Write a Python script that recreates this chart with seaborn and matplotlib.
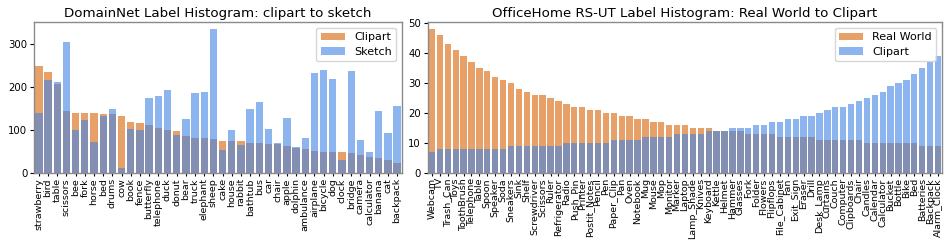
import matplotlib
matplotlib.use("Agg")
import matplotlib.pyplot as plt
import seaborn as sns
import pandas as pd

# ---------------- DomainNet data ----------------
dn_labels = ["strawberry", "bird", "table", "scissors", "bee", "fork", "horse", "bed", "drums", "cow",
             "book", "fence", "butterfly", "telephone", "duck", "donut", "bear", "truck", "elephant", "sheep",
             "cake", "house", "rabbit", "bathtub", "bus", "car", "chair", "apple", "dolphin", "ambulance",
             "airplane", "bicycle", "dog", "clock", "bridge", "camera", "calculator", "banana", "cat", "backpack"]
dn_clipart = [250, 236, 208, 144, 141, 141, 141, 138, 137, 132,
              118, 116, 113, 105, 100, 98, 87, 82, 82, 80,
              76, 76, 75, 71, 71, 69, 67, 63, 59, 57,
              52, 50, 50, 49, 48, 42, 39, 36, 31, 25]
dn_sketch = [139, 216, 211, 306, 101, 124, 73, 133, 150, 12,
             103, 100, 176, 179, 194, 89, 126, 187, 188, 334,
             54, 101, 66, 149, 165, 103, 70, 128, 61, 82,
             233, 241, 218, 31, 237, 77, 49, 144, 93, 156]

# ---------------- OfficeHome data ----------------
oh_labels = ["Webcam", "TV", "Trash_Can", "Toys", "ToothBrush", "Telephone", "Table", "Spoon", "Speaker", "Soda",
             "Sneakers", "Sink", "Shelf", "Screwdriver", "Scissors", "Ruler", "Refrigerator", "Radio", "Push_Pin", "Printer",
             "Postit_Notes", "Pencil", "Pen", "Paper_Clip", "Pan", "Oven", "Notebook", "Mug", "Mouse", "Mop",
             "Monitor", "Marker", "Laptop", "Lamp_Shade", "Knives", "Keyboard", "Kettle", "Helmet", "Hammer", "Glasses",
             "Fork", "Folder", "Flowers", "Flipflops", "File_Cabinet", "Fan", "Exit_Sign", "Eraser", "Drill", "Desk_Lamp",
             "Curtains", "Couch", "Computer", "Clipboards", "Chair", "Candles", "Calendar", "Calculator", "Bucket", "Bottle",
             "Bike", "Bed", "Batteries", "Backpack", "Alarm_Clock"]
oh_realworld = [48, 46, 43, 41, 39, 37, 35, 34, 32, 31,
                30, 28, 27, 26, 26, 25, 24, 23, 22, 22,
                21, 21, 20, 20, 19, 19, 18, 18, 17, 17,
                16, 16, 16, 15, 15, 15, 14, 14, 14, 14,
                13, 13, 13, 13, 12, 12, 12, 12, 12, 11,
                11, 11, 11, 11, 11, 10, 10, 10, 10, 10,
                10, 10, 9, 9, 9]
oh_clipart = [7, 8, 8, 8, 8, 8, 8, 8, 8, 8,
              9, 9, 9, 9, 9, 9, 9, 10, 10, 10,
              10, 10, 10, 11, 11, 11, 11, 12, 12, 12,
              12, 13, 13, 13, 13, 14, 14, 14, 15, 15,
              15, 16, 16, 17, 17, 18, 18, 19, 19, 20,
              21, 22, 22, 23, 24, 25, 26, 27, 29, 30,
              31, 33, 35, 37, 39]

ORANGE = "#E8A069"
BLUE = "#3F82E3"

fig = plt.figure(figsize=(9.52, 2.46), dpi=100)
ax1 = fig.add_axes([34.3 / 952, 1 - 173.3 / 246, 367.4 / 952, 151 / 246])
ax2 = fig.add_axes([428 / 952, 1 - 173.3 / 246, 514 / 952, 151 / 246])


def draw(ax, labels, a, b, la, lb, title):
    df = pd.DataFrame({"label": labels, "a": a, "b": b})
    sns.barplot(data=df, x="label", y="a", color=ORANGE, alpha=1.0, saturation=1,
                label=la, ax=ax, order=labels)
    sns.barplot(data=df, x="label", y="b", color=BLUE, alpha=0.6, saturation=1,
                label=lb, ax=ax, order=labels)
    ax.set_xlabel("")
    ax.set_ylabel("")
    ax.set_title(title, fontsize=9.6, pad=4)
    ax.tick_params(axis="x", labelrotation=90, labelsize=6.8, length=2.5, pad=1)
    ax.tick_params(axis="y", labelsize=7.3, length=3, pad=2)
    for s in ax.spines.values():
        s.set_color("#8a8a8a")
        s.set_linewidth(1.0)
    ax.legend(loc="upper right", fontsize=8, frameon=True, borderpad=0.4,
              handlelength=2.2, labelspacing=0.4)


draw(ax1, dn_labels, dn_clipart, dn_sketch, "Clipart", "Sketch",
     "DomainNet Label Histogram: clipart to sketch")
draw(ax2, oh_labels, oh_realworld, oh_clipart, "Real World", "Clipart",
     "OfficeHome RS-UT Label Histogram: Real World to Clipart")
ax1.set_yticks([0, 100, 200, 300])
ax2.set_yticks([0, 10, 20, 30, 40, 50])

fig.savefig("out.png", dpi=100)
